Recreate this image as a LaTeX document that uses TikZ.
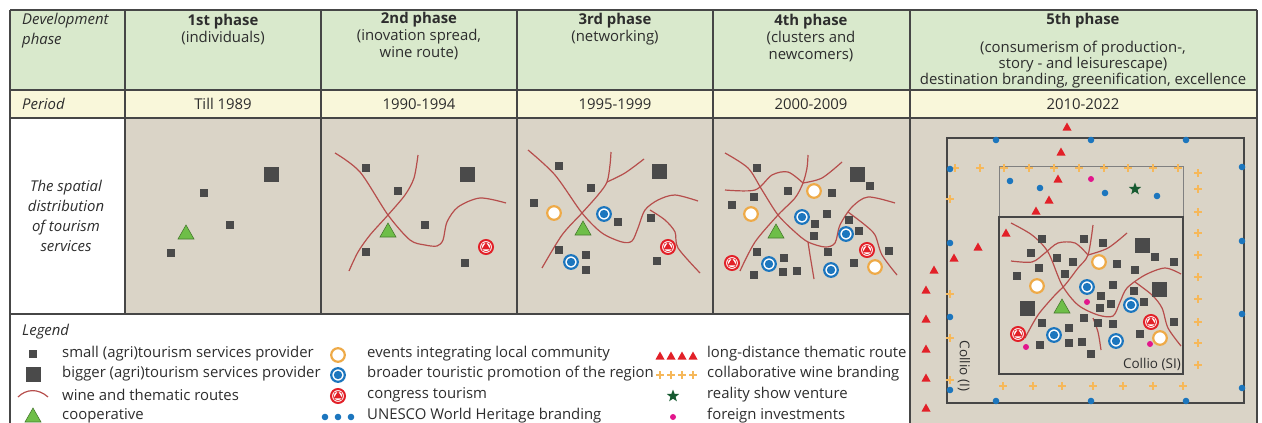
\documentclass[tikz,border=0pt]{standalone}
\usepackage{fontspec}
\setmainfont{Open Sans}
\usetikzlibrary{positioning,shapes.geometric}
\definecolor{headgreen}{RGB}{217,233,204}
\definecolor{periodyellow}{RGB}{249,247,218}
\definecolor{mapbeige}{RGB}{218,212,199}
\definecolor{gridgray}{RGB}{70,70,70}
\definecolor{txtgray}{RGB}{45,45,45}
\definecolor{sqgray}{RGB}{74,74,74}
\definecolor{coopgreen}{RGB}{110,190,72}
\definecolor{congred}{RGB}{226,32,40}
\definecolor{promoblue}{RGB}{28,118,190}
\definecolor{evorange}{RGB}{238,170,72}
\definecolor{plusorange}{RGB}{246,184,90}
\definecolor{routered}{RGB}{182,78,76}
\definecolor{stargreen}{RGB}{22,90,48}
\definecolor{fmagenta}{RGB}{226,22,140}
\newcommand\basefont{\fontsize{14.9}{17}\selectfont}
\tikzset{
  gridln/.style={draw=gridgray, line width=1.3pt},
  hdtext/.style={align=center, text=txtgray, inner sep=0pt},
  lbltext/.style={font=\basefont\itshape, align=left, text=txtgray, inner sep=0pt},
  legtext/.style={anchor=west, text=txtgray, inner sep=0pt},
  route/.style={draw=routered, line width=1.2pt},
  smallsq/.pic={\fill[sqgray] (-4,-4) rectangle (4,4);},
  bigsq/.pic={\fill[sqgray] (-7.5,-7.5) rectangle (7.5,7.5);},
  coop/.pic={\filldraw[fill=coopgreen, draw=coopgreen!65!black, line width=0.6pt]
             (-8,6) -- (8,6) -- (0,-8) -- cycle;},
  eventmk/.pic={\draw[evorange, line width=2.2pt, fill=white] (0,0) circle (6.8);},
  promomk/.pic={\draw[promoblue, line width=2.2pt, fill=white] (0,0) circle (6.8);
                \fill[promoblue] (0,0) circle (4.2);},
  congressmk/.pic={\draw[congred, line width=2pt, fill=white] (0,0) circle (7);
                   \draw[congred, line width=0.6pt] (0,0) circle (4.8);
                   \fill[congred] (-4.4,2.4) -- (4.4,2.4) -- (0,-4.6) -- cycle;},
  longtri/.pic={\fill[congred] (-4.5,3.5) -- (4.5,3.5) -- (0,-4.5) -- cycle;},
  wineplus/.pic={\draw[plusorange, line width=2.8pt] (-3.6,0) -- (3.6,0) (0,-3.6) -- (0,3.6);},
  unescodot/.pic={\fill[promoblue] (0,0) circle (3.3);},
  foreigndot/.pic={\fill[fmagenta] (0,0) circle (3);}
}

\begin{document}
\begin{tikzpicture}[x=1pt, y=-1pt, font=\basefont]
  \useasboundingbox (0,0) rectangle (1262,423);
  \clip (0,0) rectangle (1262,423);

  % Table backgrounds
  \fill[headgreen] (10,10) rectangle (1257,90);
  \fill[periodyellow] (10,90) rectangle (1257,118);
  \fill[mapbeige] (125,118) rectangle (910,314);
  \fill[mapbeige] (910,118) rectangle (1257,430);

  % Grid lines
  \draw[gridln] (10,10) -- (1257,10);
  \draw[gridln] (10,90) -- (1257,90);
  \draw[gridln] (10,118) -- (1257,118);
  \draw[gridln] (10,314) -- (910,314);
  \draw[gridln] (10,10) -- (10,430);
  \foreach \x in {125,321,517,713}
    \draw[gridln] (\x,10) -- (\x,314);
  \draw[gridln] (910,10) -- (910,430);
  \draw[gridln] (1257,10) -- (1257,430);

  % Header row
  \node[lbltext, anchor=west, font=\fontsize{14.9}{20}\selectfont\itshape] (hd0) at (22,31) {Development\\phase};
  \node[hdtext] (hd1) at (223,29.5) {\textbf{1st phase}\\(individuals)};
  \node[hdtext] (hd2) at (419,36.5) {\textbf{2nd phase}\\(inovation spread,\\wine route)};
  \node[hdtext] (hd3) at (615,29.5) {\textbf{3rd phase}\\(networking)};
  \node[hdtext] (hd4) at (811,38) {\textbf{4th phase}\\(clusters and\\newcomers)};
  \node[hdtext] (hd5) at (1083,21) {\textbf{5th phase}};
  \node[hdtext, font=\fontsize{14.9}{16}\selectfont] (hd5sub) at (1083,65)
       {(consumerism of production-,\\story - and leisurescape)\\destination branding, greenification, excellence};

  % Period row
  \node[lbltext, anchor=west] (per0) at (22,104) {Period};
  \foreach \x/\t [count=\i] in {223/Till 1989, 419/1990-1994, 615/1995-1999,
                                811/2000-2009, 1083/2010-2022}
    \node[hdtext] (per\i) at (\x,104) {\t};

  % Spatial row label
  \node[lbltext, align=center, font=\fontsize{14.9}{20}\selectfont\itshape] (spat)
       at (66,216) {The spatial\\distribution\\of tourism\\services};

  % 1st phase
  \pic at (271,174) {bigsq};
  \foreach \x/\y in {204/193, 230/225, 171/253}
    \pic at (\x,\y) {smallsq};
  \pic at (186,233) {coop};

  % 2nd phase
  \draw[route] plot[smooth] coordinates {(335,153) (360,172) (388,215) (410,240)
      (425,245) (437,246) (443,240) (447,222) (458,207) (480,198) (506,203)};
  \draw[route] plot[smooth] coordinates {(418,155) (414,178) (405,195) (388,215)
      (370,235) (358,252) (349,271)};
  \pic at (467,174) {bigsq};
  \foreach \x/\y in {366/168, 398/191, 425/225, 366/252, 465/263}
    \pic at (\x,\y) {smallsq};
  \pic at (388,231) {coop};
  \pic at (486,247) {congressmk};

  % 3rd phase
  \draw[route] plot[smooth] coordinates {(528,150) (555,175) (582,213) (602,233)
      (622,242) (632,241) (638,228) (645,210) (658,200) (675,195) (698,201)};
  \draw[route] plot[smooth] coordinates {(542,268) (562,235) (582,213) (598,195)
      (607,182) (610,165) (611,152)};
  \draw[route] plot[smooth] coordinates {(607,182) (625,173) (644,159)};
  \draw[route] plot[smooth] coordinates {(650,210) (665,220) (675,232) (678,248) (700,273)};
  \pic at (659,171) {bigsq};
  \foreach \x/\y in {559/166, 591/188, 534/203, 618/222, 651/218, 559/250,
                     586/255, 586/270, 657/261}
    \pic at (\x,\y) {smallsq};
  \pic at (554,213) {eventmk};
  \foreach \x/\y in {604/214, 571/262}
    \pic at (\x,\y) {promomk};
  \pic at (583,229) {coop};
  \pic at (668,247) {congressmk};

  % 4th phase
  \draw[route] plot[smooth] coordinates {(725,153) (748,168) (762,190) (778,215)
      (795,232) (808,242) (825,247) (835,243) (840,225) (852,207) (868,197) (895,203)};
  \draw[route] plot[smooth] coordinates {(740,271) (755,242) (778,215) (795,198)
      (803,183) (807,168) (808,155)};
  \draw[route] plot[smooth] coordinates {(803,183) (822,178) (842,162)};
  \draw[route] plot[smooth] coordinates {(725,190) (755,190) (772,175) (788,172) (803,183)};
  \draw[route] plot[smooth] coordinates {(848,212) (865,225) (875,235) (882,255) (897,275)};
  \draw[route] plot[smooth] coordinates {(808,242) (810,255) (814,279)};
  \pic at (857,174) {bigsq};
  \foreach \x/\y in {757/168, 788/191, 754/197, 732/205, 832/193, 870/186,
                     827/214, 815/224, 814/236, 849/220, 859/231, 828/252,
                     889/251, 854/263, 757/252, 784/258, 754/275, 783/272, 797/271}
    \pic at (\x,\y) {smallsq};
  \foreach \x/\y in {814/191, 751/214, 875/267}
    \pic at (\x,\y) {eventmk};
  \foreach \x/\y in {802/217, 846/234, 769/264, 831/270}
    \pic at (\x,\y) {promomk};
  \pic at (776,232) {coop};
  \foreach \x/\y in {732/263, 867/250}
    \pic at (\x,\y) {congressmk};

  % 5th phase: regions
  \draw[gridgray, line width=1.2pt] (947,138) rectangle (1244,403);
  \draw[gray, line width=1pt] (999,166) rectangle (1183,217);
  \draw[gridgray, line width=1.2pt] (999,217) rectangle (1183,374);
  \node[text=txtgray, inner sep=0pt, anchor=south east, font=\fontsize{13.5}{15}\selectfont]
       (collsi) at (1181,371) {Collio (SI)};
  \node[text=txtgray, inner sep=0pt, rotate=-90, font=\fontsize{13.5}{15}\selectfont]
       (colli) at (964,366) {Collio (I)};

  % 5th phase: routes
  \draw[route] plot[smooth] coordinates {(1011,223) (1032,235) (1048,252) (1062,285)
      (1078,305) (1098,315) (1113,316) (1120,302) (1127,288) (1145,275) (1165,268) (1181,274)};
  \draw[route] plot[smooth] coordinates {(1025,338) (1038,315) (1055,295) (1065,285)
      (1078,268) (1088,255) (1093,225)};
  \draw[route] plot[smooth] coordinates {(1088,255) (1108,248) (1127,233)};
  \draw[route] plot[smooth] coordinates {(1011,261) (1032,262) (1045,253) (1058,243)
      (1075,243) (1088,255)};
  \draw[route] plot[smooth] coordinates {(1135,282) (1152,295) (1162,308) (1168,328) (1181,346)};
  \draw[route] plot[smooth] coordinates {(1093,318) (1098,332) (1101,350)};

  % 5th phase: services
  \foreach \x/\y in {1142/245, 1159/289, 1027/308}
    \pic at (\x,\y) {bigsq};
  \foreach \x/\y in {1042/239, 1031/253, 1057/258, 1073/262, 1084/239, 1103/243,
                     1117/264, 1135/270, 1155/257, 1174/262, 1039/268, 1017/276,
                     1065/274, 1113/285, 1101/296, 1111/304, 1100/308, 1134/291,
                     1144/302, 1084/318, 1098/323, 1113/324, 1042/323, 1069/328,
                     1069/343, 1082/342, 1040/345, 1091/354, 1140/334, 1174/322}
    \pic at (\x,\y) {smallsq};
  \foreach \x/\y in {1099/262, 1037/286, 1160/338}
    \pic at (\x,\y) {eventmk};
  \foreach \x/\y in {1087/287, 1131/305, 1054/335, 1116/341}
    \pic at (\x,\y) {promomk};
  \foreach \x/\y in {1151/322, 1018/334}
    \pic at (\x,\y) {congressmk};
  \pic at (1062,307) {coop};

  % 5th phase: branding and routes
  \foreach \x/\y in {1067/127, 1061/152, 1058/179, 1049/200, 1036/211, 1006/233,
                     978/247, 954/258, 934/270, 926/290, 926/319, 926/349, 926/378, 926/408}
    \pic at (\x,\y) {longtri};
  \foreach \x in {955,980,1004,1029,1054,1079,1104,1128,1153,1178}
    \pic at (\x,168) {wineplus};
  \foreach \y in {173,189,212,233,255,277,299,322,343,365}
    \pic at (1198,\y) {wineplus};
  \foreach \x in {1003,1033,1062,1093,1123,1153,1183}
    \pic at (\x,386) {wineplus};
  \foreach \y in {199,294,338,380}
    \pic at (950,\y) {wineplus};
  \foreach \x/\y in {996/140, 1091/140, 1186/140, 996/401, 1091/401, 1186/401,
                     950/169, 950/243, 950/317, 950/390, 1242/167, 1242/241,
                     1242/314, 1242/388, 1010/181, 1040/188, 1105/193, 1157/196}
    \pic at (\x,\y) {unescodot};
  \foreach \x/\y in {1091/179, 1087/302, 1026/347, 1150/344}
    \pic at (\x,\y) {foreigndot};
  \node[star, star points=5, star point ratio=2.4, fill=stargreen, inner sep=0pt,
        minimum size=13pt] (reality5) at (1135,189) {};

  % Legend
  \node[lbltext, anchor=west] (legend) at (22,332) {Legend};
  \pic at (33,354) {smallsq};
  \pic at (33,374) {bigsq};
  \draw[route] (18,397) .. controls (26,389) and (38,388) .. (48,397);
  \pic at (33,416) {coop};
  \node[legtext] (leg1) at (62,354) {small (agri)tourism services provider};
  \node[legtext] (leg2) at (62,374) {bigger (agri)tourism services provider};
  \node[legtext] (leg3) at (62,395) {wine and thematic routes};
  \node[legtext] (leg4) at (62,416) {cooperative};

  \pic at (338,355) {eventmk};
  \pic at (338,375) {promomk};
  \pic at (338,396) {congressmk};
  \foreach \x in {325,338,351}
    \pic at (\x,417) {unescodot};
  \node[legtext] (leg5) at (367,354) {events integrating local community};
  \node[legtext] (leg6) at (367,374) {broader touristic promotion of the region};
  \node[legtext] (leg7) at (367,395) {congress tourism};
  \node[legtext] (leg8) at (367,416) {UNESCO World Heritage branding};

  \foreach \x in {660,671,682,693} {
    \pic at (\x,356) {longtri};
    \pic at (\x,375) {wineplus};
  }
  \node[star, star points=5, star point ratio=2.4, fill=stargreen, inner sep=0pt,
        minimum size=13pt] (reality) at (673,396) {};
  \pic at (673,417) {foreigndot};
  \node[legtext] (leg9) at (707,354) {long-distance thematic route};
  \node[legtext] (leg10) at (707,374) {collaborative wine branding};
  \node[legtext] (leg11) at (707,395) {reality show venture};
  \node[legtext] (leg12) at (707,416) {foreign investments};
\end{tikzpicture}
\end{document}
